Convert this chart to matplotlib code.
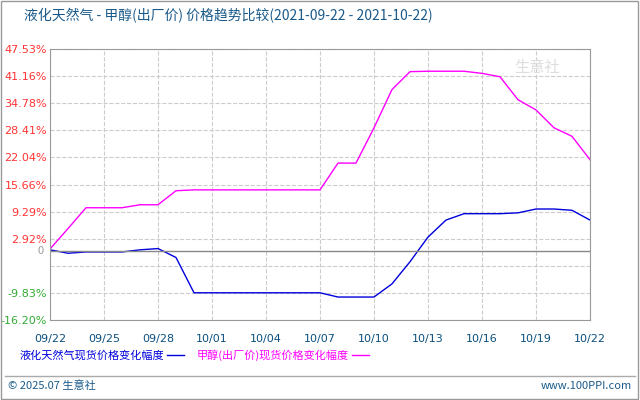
import matplotlib
matplotlib.use('Agg')
import matplotlib.pyplot as plt
from matplotlib.lines import Line2D

plt.rcParams['font.family'] = ['Noto Sans CJK SC', 'DejaVu Sans']

dates = ['09/22', '09/23', '09/24', '09/25', '09/26', '09/27', '09/28', '09/29', '09/30', '10/01',
         '10/02', '10/03', '10/04', '10/05', '10/06', '10/07', '10/08', '10/09', '10/10', '10/11',
         '10/12', '10/13', '10/14', '10/15', '10/16', '10/17', '10/18', '10/19', '10/20', '10/21', '10/22']
lng = [0.3, -0.5, -0.2, -0.2, -0.2, 0.3, 0.6, -1.5, -9.8, -9.8,
       -9.8, -9.8, -9.8, -9.8, -9.8, -9.8, -10.8, -10.8, -10.8, -7.7,
       -2.5, 3.3, 7.3, 8.8, 8.8, 8.8, 9.0, 9.9, 9.9, 9.6, 7.3]
methanol = [0.5, 5.3, 10.2, 10.2, 10.2, 10.9, 10.9, 14.2, 14.4, 14.4,
            14.4, 14.4, 14.4, 14.4, 14.4, 14.4, 20.7, 20.7, 29.0, 38.0,
            42.2, 42.3, 42.3, 42.3, 41.8, 41.0, 35.6, 33.2, 29.0, 27.0, 21.5]
ytick_vals = [47.53, 41.16, 34.78, 28.41, 22.04, 15.66, 9.29, 2.92, -3.45, -9.83, -16.20]
ytick_labels = ['47.53%', '41.16%', '34.78%', '28.41%', '22.04%', '15.66%', '9.29%', '2.92%', '', '-9.83%', '-16.20%']
xtick_idx = list(range(0, 31, 3))

fig = plt.figure(figsize=(6.4, 4.0), dpi=100)
ax = fig.add_axes([50 / 640, 80 / 400, 540 / 640, 271 / 400])

x = list(range(len(dates)))
ax.plot(x, lng, color='#0000dd', lw=1)
ax.plot(x, methanol, color='#ff00ff', lw=1)
ax.axhline(0, color='#888888', lw=1)

ax.set_xlim(0, 30)
ax.set_ylim(-16.20, 47.53)
ax.set_xticks(xtick_idx)
ax.set_xticklabels([dates[i] for i in xtick_idx], color='#0b4f7f', fontsize=8, family='DejaVu Sans')
ax.set_yticks(ytick_vals)
ax.set_yticklabels(ytick_labels, fontsize=8, family='DejaVu Sans')
for lab, v in zip(ax.get_yticklabels(), ytick_vals):
    lab.set_color('#ff3333' if v > 0 else '#33aa33')
ax.text(-0.012, 0, '0', transform=ax.get_yaxis_transform(), ha='right', va='center',
        fontsize=8, color='#999999')
ax.tick_params(length=0, pad=10)
ax.tick_params(axis='y', pad=2)
ax.grid(True, color='#cccccc', ls='--', lw=0.8)
for s in ax.spines.values():
    s.set_color('#999999')

ax.text(0.86, 0.93, '生意社', transform=ax.transAxes, fontsize=11, color='#dddddd', ha='left', va='center')

fig.text(24 / 640, 384 / 400, '液化天然气 - 甲醇(出厂价) 价格趋势比较(2021-09-22 - 2021-10-22)',
         fontsize=10, color='#1a5a8a', va='center')
fig.text(20 / 640, 45 / 400, '液化天然气现货价格变化幅度', fontsize=8, color='#0000dd', va='center')
fig.add_artist(Line2D([167 / 640, 184 / 640], [45 / 400, 45 / 400], color='#0000dd', lw=1))
fig.text(197 / 640, 45 / 400, '甲醇(出厂价)现货价格变化幅度', fontsize=8, color='#ff00ff', va='center')
fig.add_artist(Line2D([352 / 640, 369 / 640], [45 / 400, 45 / 400], color='#ff00ff', lw=1))
fig.add_artist(Line2D([5 / 640, 635 / 640], [24 / 400, 24 / 400], color='#aaaaaa', lw=1))
fig.text(8 / 640, 14 / 400, '© 2025.07 生意社', fontsize=8, color='#1a5a8a', va='center')
fig.text(632 / 640, 14 / 400, 'www.100PPI.com', fontsize=8, color='#1a5a8a', va='center', ha='right')
fig.add_artist(plt.Rectangle((0.002, 0.003), 0.995, 0.994, fill=False, ec='#999999', lw=1,
                             transform=fig.transFigure))

fig.savefig('out.png', dpi=100)
